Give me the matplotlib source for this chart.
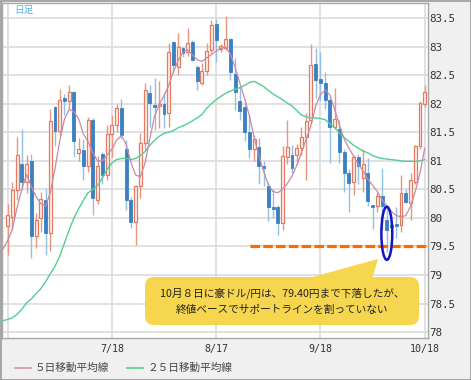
import numpy as np
import matplotlib
matplotlib.use('Agg')
import matplotlib.pyplot as plt
from matplotlib import patches, transforms
from matplotlib.lines import Line2D

# daily candles, 6/18 .. 10/18 (trading-day index 0..88)
opens = [79.86, 80.02, 80.49, 80.94, 80.63, 81.00, 79.69, 80.00, 80.32, 79.73,
         81.94, 81.53, 82.10, 82.05, 82.21, 81.13, 81.18, 80.91, 81.72, 80.32,
         81.12, 80.75, 81.46, 81.63, 81.92, 81.20, 80.32, 79.92, 80.55, 81.31,
         82.19, 81.98, 81.96, 82.00, 81.83, 83.08, 82.65, 82.97, 82.90, 83.08,
         82.65, 82.36, 82.58, 82.94, 83.40, 82.96, 82.97, 83.13, 82.52, 82.05,
         81.95, 81.50, 81.20, 81.24, 80.91, 80.56, 80.19, 80.19, 79.91, 81.07,
         81.10, 81.10, 81.22, 81.42, 81.72, 82.70, 82.43, 82.36, 82.06, 81.60,
         81.55, 81.15, 80.78, 80.63, 81.07, 80.70, 80.79, 80.22, 80.20, 80.38,
         79.96, 79.87, 79.90, 79.87, 80.44, 80.26, 80.63, 81.25, 82.00]
highs = [80.25, 80.62, 81.41, 81.55, 81.10, 81.12, 80.08, 80.45, 80.50, 81.90,
         81.96, 82.25, 82.17, 82.33, 82.23, 81.39, 81.38, 81.77, 81.75, 81.08,
         81.16, 81.63, 81.80, 81.99, 82.08, 81.37, 80.37, 80.58, 81.48, 82.36,
         82.33, 82.45, 82.40, 82.20, 83.06, 83.09, 83.24, 83.00, 83.32, 83.12,
         82.68, 82.71, 83.06, 83.47, 83.48, 83.05, 83.54, 83.15, 82.80, 82.29,
         82.06, 81.80, 81.45, 81.40, 81.00, 80.62, 80.50, 80.22, 81.26, 81.72,
         81.28, 81.30, 81.60, 81.84, 83.05, 82.98, 82.90, 82.55, 82.10, 82.27,
         81.72, 81.20, 80.85, 81.10, 81.12, 81.20, 81.05, 80.22, 80.45, 80.87,
         80.20, 79.87, 80.19, 80.75, 80.50, 80.78, 81.28, 82.05, 82.33]
lows = [79.35, 79.79, 80.31, 80.48, 80.44, 79.29, 79.47, 79.75, 79.35, 79.42,
        81.25, 81.43, 81.80, 81.90, 81.07, 81.00, 80.66, 80.80, 80.05, 80.24,
        80.60, 80.66, 81.07, 81.50, 81.40, 80.14, 79.82, 79.52, 80.34, 81.19,
        81.60, 81.54, 81.57, 81.57, 81.59, 82.54, 82.51, 82.82, 82.83, 82.74,
        82.24, 82.33, 82.50, 82.89, 82.73, 82.90, 82.94, 82.42, 81.89, 81.71,
        81.35, 81.05, 81.00, 80.60, 80.55, 79.95, 80.00, 79.70, 79.79, 80.95,
        80.79, 80.95, 81.10, 80.66, 81.65, 82.10, 82.05, 81.90, 80.96, 81.55,
        80.96, 80.45, 80.10, 80.40, 80.60, 80.45, 80.20, 79.80, 80.10, 79.78,
        79.40, 79.84, 79.65, 79.76, 80.26, 79.96, 80.60, 81.20, 81.95]
closes = [80.05, 80.49, 81.10, 80.63, 80.94, 79.69, 79.96, 80.33, 79.73, 81.69,
          81.53, 82.07, 82.04, 82.21, 81.34, 81.20, 80.91, 81.72, 80.34, 80.90,
          80.75, 81.46, 81.63, 81.92, 81.45, 80.31, 79.92, 80.55, 81.31, 82.24,
          82.01, 81.94, 82.00, 81.82, 82.90, 82.68, 83.00, 82.89, 83.06, 82.77,
          82.39, 82.58, 82.93, 83.38, 83.12, 83.01, 83.13, 82.55, 82.20, 81.87,
          81.50, 81.20, 81.38, 80.91, 80.87, 80.19, 80.16, 79.91, 81.08, 81.24,
          80.87, 81.22, 81.42, 81.70, 82.68, 82.42, 82.36, 82.06, 81.60, 81.73,
          81.16, 80.78, 80.61, 81.07, 80.90, 80.95, 80.30, 80.19, 80.38, 80.20,
          79.79, 79.84, 79.85, 80.44, 80.28, 80.66, 81.25, 82.01, 82.21]

# moving averages, index -1 .. 88
ma5 = [79.45, 79.60, 79.80, 80.18, 80.50, 80.76, 80.55, 80.37, 80.25, 80.20,
       80.44, 80.86, 81.35, 81.73, 81.90, 81.86, 81.73, 81.47, 81.33, 81.14,
       80.99, 81.00, 81.10, 81.20, 81.36, 81.44, 81.29, 80.98, 80.75, 80.72,
       80.96, 81.38, 81.78, 81.99, 82.14, 82.32, 82.56, 82.76, 82.90, 82.94,
       82.85, 82.77, 82.74, 82.80, 82.86, 82.92, 82.97, 82.99, 82.87, 82.64,
       82.36, 82.09, 81.79, 81.42, 81.09, 80.82, 80.58, 80.46, 80.44, 80.50,
       80.60, 80.73, 80.92, 81.14, 81.38, 81.62, 81.96, 82.16, 82.24, 82.15,
       81.90, 81.63, 81.38, 81.22, 81.08, 80.94, 80.82, 80.68, 80.57, 80.46,
       80.32, 80.21, 80.11, 80.04, 80.02, 80.04, 80.20, 80.46, 80.78, 81.22]
ma25 = [78.20, 78.22, 78.25, 78.31, 78.40, 78.51, 78.58, 78.67, 78.76, 78.88,
        79.02, 79.15, 79.33, 79.56, 79.79, 80.00, 80.16, 80.31, 80.44, 80.50,
        80.57, 80.70, 80.85, 80.96, 81.02, 81.04, 81.04, 81.02, 81.04, 81.09,
        81.16, 81.27, 81.36, 81.43, 81.48, 81.50, 81.53, 81.58, 81.61, 81.65,
        81.70, 81.75, 81.81, 81.92, 82.00, 82.07, 82.13, 82.18, 82.22, 82.25,
        82.28, 82.32, 82.37, 82.39, 82.35, 82.30, 82.23, 82.17, 82.12, 82.07,
        82.01, 81.96, 81.88, 81.80, 81.77, 81.75, 81.75, 81.74, 81.72, 81.65,
        81.58, 81.49, 81.41, 81.34, 81.27, 81.22, 81.17, 81.14, 81.09, 81.06,
        81.04, 81.03, 81.02, 81.01, 81.00, 80.99, 80.99, 80.99, 81.00, 81.02]

tick_pos = [0, 22, 44, 66, 88]
tick_labels = ['', '7/18', '8/17', '9/18', '10/18']
support = 79.5

plt.rcParams['font.family'] = ['Noto Sans CJK JP', 'DejaVu Sans']

W, H = 471, 380
fig = plt.figure(figsize=(W / 100, H / 100), dpi=100, facecolor='#f0f0f0')
ax = fig.add_axes([2 / W, (H - 338) / H, 426 / W, 335 / H])
ax.set_facecolor('white')
# pixel coordinates, origin top-left
px = transforms.Affine2D().scale(0.01, -0.01).translate(0, H / 100) + fig.dpi_scale_trans

o, h, l, c = map(np.array, (opens, highs, lows, closes))
x = np.arange(len(o))
up = c >= o

# wicks
ax.vlines(x[up], l[up], h[up], colors='#ea9580', lw=1, zorder=2)
ax.vlines(x[~up], l[~up], h[~up], colors='#93bfe3', lw=1, zorder=2)
# bodies
body = np.maximum(np.abs(c - o), 0.02)
ax.bar(x[up], body[up], bottom=np.minimum(o, c)[up], width=0.62,
       color='#fdf1ed', edgecolor='#e27b62', lw=0.9, zorder=3)
ax.bar(x[~up], body[~up], bottom=np.minimum(o, c)[~up], width=0.62,
       color='#3b80c2', edgecolor='#3b80c2', lw=0.6, zorder=3)

xm = np.arange(-1, len(o))
ax.plot(xm, ma25, color='#52cf90', lw=1.0, zorder=4)
ax.plot(xm, ma5, color='#c98aa6', lw=0.9, zorder=4)

# support line and circled low
ax.plot([51.2, 88.7], [support, support], color='#ff6a00', lw=2.3,
        dashes=(3.0, 1.0), solid_capstyle='butt', dash_capstyle='butt', zorder=5)
ax.add_patch(patches.Ellipse((80, 79.73), 2.3, 0.93, fill=False,
                             ec='#1414c4', lw=1.8, zorder=6))

ax.set_xlim(-1.18, 88.69)
ax.set_ylim(77.896, 83.763)
ax.set_yticks(np.arange(78, 83.51, 0.5))
ax.set_yticklabels(['%g' % v for v in np.arange(78, 83.51, 0.5)],
                   family='DejaVu Sans Mono', fontsize=7.8, color='#333333')
ax.yaxis.tick_right()
ax.set_xticks(tick_pos)
ax.set_xticklabels(tick_labels, family='DejaVu Sans Mono', fontsize=7.2, color='#333333')
ax.tick_params(length=0)
ax.tick_params(axis='y', pad=1)
ax.tick_params(axis='x', pad=4)
ax.grid(True, color='#dcdcdc', lw=1.2, zorder=0)
ax.set_axisbelow(True)
for s in ax.spines.values():
    s.set_color('#a8a8a8')
    s.set_linewidth(1)

# labels and callout
fig.text(14, 10, '日足', transform=px, fontsize=7, color='#56b8ec', va='center')

fig.add_artist(patches.Polygon([(305, 279), (378, 259), (372, 279)], closed=True,
                               transform=px, fc='#f6d64e', ec='none', zorder=7))
fig.add_artist(patches.FancyBboxPatch((145, 277), 274, 48,
                                      boxstyle='round,pad=0,rounding_size=9',
                                      transform=px, fc='#f6d64e', ec='none', zorder=7))
fig.text(282, 293, '10月８日に豪ドル/円は、79.40円まで下落したが、', transform=px,
         fontsize=7.7, color='#222222', ha='center', va='center', zorder=8)
fig.text(282, 310, '終値ベースでサポートラインを割っていない', transform=px,
         fontsize=7.7, color='#222222', ha='center', va='center', zorder=8)

# legend
fig.add_artist(Line2D([15, 31], [368, 368], transform=px, color='#d093ab', lw=1.2))
fig.text(35, 368, '５日移動平均線', transform=px, fontsize=7.7, color='#444444', va='center')
fig.add_artist(Line2D([127, 143], [368, 368], transform=px, color='#52cf90', lw=1.2))
fig.text(148, 368, '２５日移動平均線', transform=px, fontsize=7.7, color='#444444', va='center')

# outer frame
fig.add_artist(patches.Rectangle((0.5, 0.5), W - 1, H - 1, transform=px,
                                 fill=False, ec='#9a9a9a', lw=1.2))

fig.savefig('out.png', dpi=100, facecolor=fig.get_facecolor())
